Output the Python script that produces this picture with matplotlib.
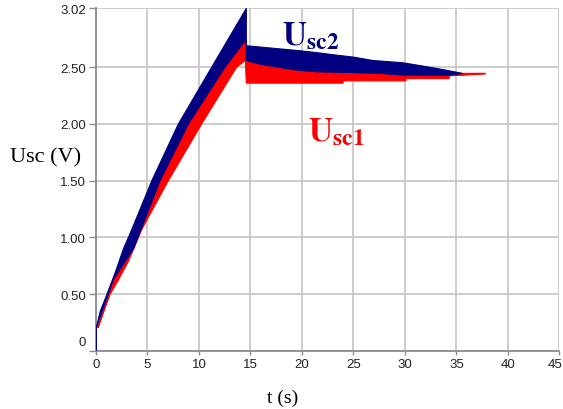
import matplotlib
matplotlib.use('Agg')
import matplotlib.pyplot as plt
import matplotlib.transforms as mtransforms

# Usc2 band (blue): upper edge, then lower edge (both left -> right)
usc2_upper_t = [0, 0, 0.42, 0.9, 1.87, 2.67, 3.48, 5.42, 8.0, 11.23, 14.6, 14.6, 15.8, 19.8, 21.4, 23.1, 25.0, 26.9, 29.8, 31.8, 33.7, 35.6]
usc2_upper_v = [0, 0.19, 0.35, 0.46, 0.69, 0.90, 1.07, 1.50, 2.00, 2.50, 3.02, 2.69, 2.68, 2.646, 2.63, 2.61, 2.59, 2.56, 2.54, 2.51, 2.48, 2.446]
usc2_lower_t = [0, 0, 1.71, 3.64, 6.22, 8.97, 12.52, 14.45, 14.6, 14.6, 15.8, 17.7, 19.5, 21.4, 24.4, 27.6, 30.0, 34.3, 35.6]
usc2_lower_v = [0, 0.19, 0.63, 0.90, 1.50, 2.00, 2.50, 2.73, 2.73, 2.56, 2.53, 2.50, 2.475, 2.46, 2.455, 2.446, 2.43, 2.43, 2.446]

# Usc1 band (red)
usc1_upper_t = [0.2, 1.71, 3.64, 6.22, 8.97, 12.52, 14.45, 14.6, 14.6, 15.8, 17.7, 19.5, 21.4, 24.4, 27.6, 35.6, 37.8]
usc1_upper_v = [0.2, 0.63, 0.90, 1.50, 2.00, 2.50, 2.73, 2.73, 2.56, 2.53, 2.50, 2.475, 2.46, 2.455, 2.446, 2.446, 2.447]
usc1_lower_t = [0.2, 0.25, 1.38, 2.03, 3.16, 4.45, 7.03, 10.26, 13.65, 14.5, 14.6, 24.0, 24.0, 30.1, 30.1, 34.3, 34.3, 35.6, 37.8]
usc1_lower_v = [0.2, 0.22, 0.50, 0.60, 0.79, 1.07, 1.50, 2.00, 2.50, 2.56, 2.36, 2.36, 2.38, 2.38, 2.40, 2.40, 2.425, 2.43, 2.441]

xticks = [0, 5, 10, 15, 20, 25, 30, 35, 40, 45]
yticks = [0, 0.5, 1.0, 1.5, 2.0, 2.5, 3.02]
ytick_labels = ['0', '0.50', '1.00', '1.50', '2.00', '2.50', '3.02']

navy = '#000080'
red = '#ff0000'

fig = plt.figure(figsize=(5.63, 4.10), dpi=100)
ax = fig.add_axes([0.1705, 0.1422, 0.823, 0.835])

# red band under, blue band on top
ax.fill(usc1_upper_t + usc1_lower_t[::-1], usc1_upper_v + usc1_lower_v[::-1],
        facecolor=red, edgecolor=red, linewidth=0.8, zorder=3)
ax.fill(usc2_upper_t + usc2_lower_t[::-1], usc2_upper_v + usc2_lower_v[::-1],
        facecolor=navy, edgecolor=navy, linewidth=0.8, zorder=4)

ax.set_xlim(0, 45)
ax.set_ylim(0, 3.02)
ax.set_xticks(xticks)
ax.set_yticks(yticks)
ax.set_yticklabels(ytick_labels)

ax.grid(True, color='#c8c8c8', linewidth=1.3)
ax.set_axisbelow(True)
for side in ['top', 'right']:
    ax.spines[side].set_visible(False)
for side in ['left', 'bottom']:
    ax.spines[side].set_color('#8c8c8c')
    ax.spines[side].set_linewidth(1.3)

ax.tick_params(axis='y', length=5, width=1, color='#8c8c8c', pad=2,
               labelsize=9.5, labelcolor='#222222')
ax.tick_params(axis='x', length=3, width=1, color='#8c8c8c', pad=2,
               labelsize=9.5, labelcolor='#222222')
for lab in ax.get_xticklabels() + ax.get_yticklabels():
    lab.set_family('Liberation Sans')

# the "0" label on the y axis sits a bit above its tick
zero_lab = ax.get_yticklabels()[0]
zero_lab.set_transform(zero_lab.get_transform() +
                       mtransforms.ScaledTranslation(0, 0.10, fig.dpi_scale_trans))
# keep "45" inside the picture
last_lab = ax.get_xticklabels()[-1]
last_lab.set_transform(last_lab.get_transform() +
                       mtransforms.ScaledTranslation(-0.04, 0, fig.dpi_scale_trans))

fig.text(46 / 563, 1 - 158 / 410, 'Usc (V)', family='Liberation Serif',
         fontsize=16, ha='center', va='center')
fig.text(283 / 563, 1 - 398 / 410, 't (s)', family='Liberation Serif',
         fontsize=14, ha='center', va='center')

plt.rcParams['mathtext.fontset'] = 'stix'
ax.text(18.1, 2.70, r'$\mathbf{U}_{\mathbf{sc2}}$', color=navy, fontsize=24,
        ha='left', va='baseline', zorder=5)
ax.text(20.6, 1.85, r'$\mathbf{U}_{\mathbf{sc1}}$', color=red, fontsize=24,
        ha='left', va='baseline', zorder=5)

fig.savefig('out.png', dpi=100, facecolor='white')
